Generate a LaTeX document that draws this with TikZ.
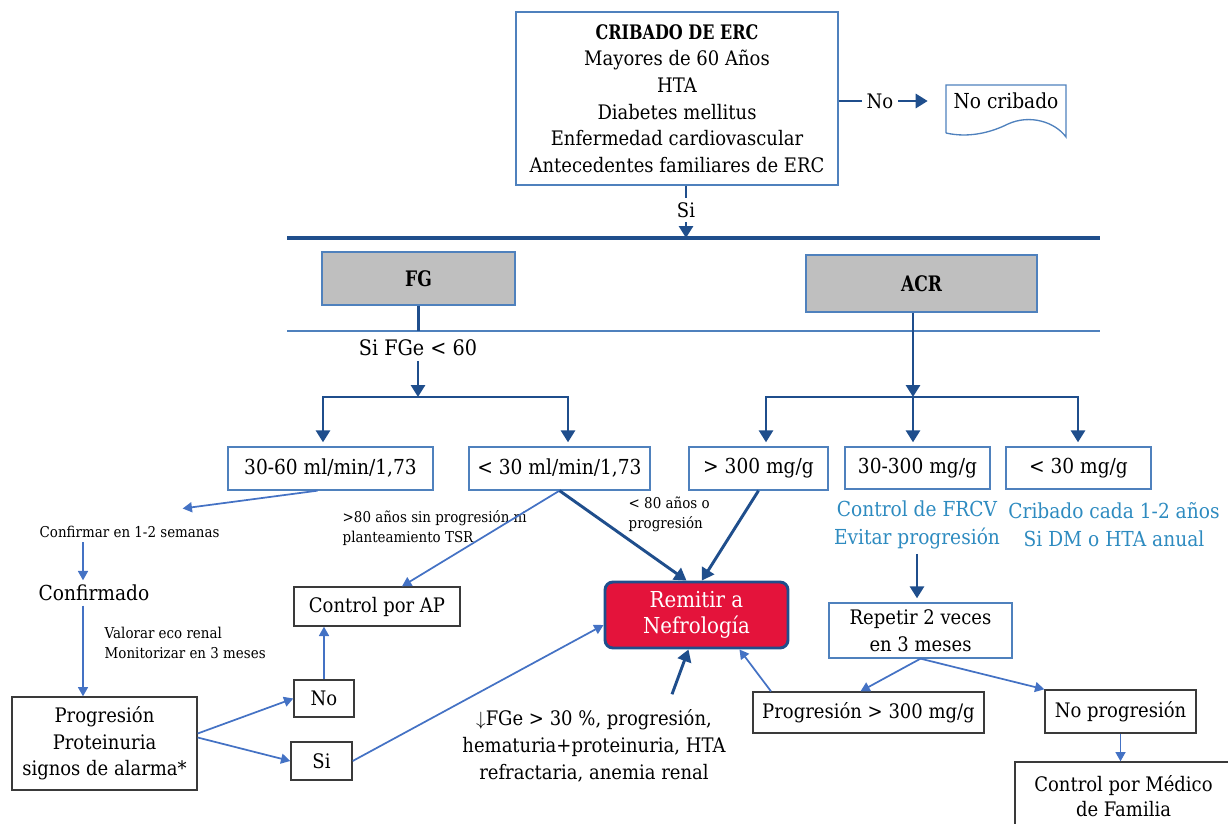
\documentclass[tikz,border=0pt]{standalone}
\usepackage{fontspec}
\setmainfont{DejaVu Serif}[FakeStretch=0.9,BoldFeatures={FakeStretch=0.8}]
\usetikzlibrary{arrows.meta,positioning}
\definecolor{darkblue}{HTML}{1F4E8C}
\definecolor{lineblue}{HTML}{4472C4}
\definecolor{boxblue}{HTML}{4F81BD}
\definecolor{boxgray}{HTML}{3A3A3A}
\definecolor{textblue}{HTML}{2E8BC0}
\definecolor{remred}{HTML}{E4133B}
\definecolor{fggray}{HTML}{BFBFBF}
\begin{document}
\begin{tikzpicture}[x=0.75pt,y=-0.75pt,font=\fontsize{15}{20}\selectfont,
  boxsize/.style 2 args={minimum width=#1*0.75pt,minimum height=#2*0.75pt},
  blue box/.style={draw=boxblue,line width=1pt,inner sep=0pt,align=center},
  black box/.style={draw=boxgray,line width=1pt,inner sep=0pt,align=center},
  gray box/.style={blue box,fill=fggray,font=\fontsize{16}{18}\selectfont\bfseries},
  row box/.style={blue box,font=\fontsize{15.5}{18}\selectfont},
  small text/.style={font=\fontsize{11.2}{15}\selectfont,align=left,anchor=west},
  blue text/.style={text=textblue,align=center,font=\fontsize{15.5}{21}\selectfont},
  dark line/.style={draw=darkblue,line width=2.2pt},
  dark arrow/.style={dark line,-{Triangle[length=9pt,width=10.5pt]}},
  light arrow/.style={draw=lineblue,line width=1.3pt,-{Triangle[length=7pt,width=7.5pt]}}]

  \clip (0,0) rectangle (1228,824);

  % cribado
  \node[blue box,boxsize={322}{173}] (cribado) at (677,98.5)
    {\textbf{CRIBADO DE ERC}\\Mayores de 60 Años\\HTA\\Diabetes mellitus\\Enfermedad cardiovascular\\Antecedentes familiares de ERC};
  \node (nolab) at (880,101) {No};
  \node[minimum width=90pt,font=\fontsize{15.5}{18}\selectfont] (nocrib) at (1006,101) {No cribado};
  \draw[boxblue,line width=1pt] (946,133) -- (946,85) -- (1066,85) -- (1066,137)
    .. controls (1055,122) and (1030,114) .. (1008,124)
    .. controls (990,133) and (968,138) .. (946,133);
  \draw[dark line,line width=1.8pt] (cribado.east |- nolab) -- (nolab.west);
  \draw[dark arrow,shorten >=13.5pt] (nolab.east) -- (nocrib.west);

  \node (silab) at (686,210) {Si};
  \coordinate (barL) at (287,238);
  \coordinate (barR) at (1100,238);
  \draw[dark line,line width=1.8pt] (silab |- cribado.south) -- (silab.north);
  \draw[dark arrow] (silab.south) -- (silab |- barL);
  \draw[dark line,line width=2.4pt] (barL) -- (barR);

  % FG / ACR
  \node[gray box,boxsize={193}{53}] (fg) at (418.5,278.5) {FG};
  \node[gray box,boxsize={231}{57}] (acr) at (921.5,283.5) {ACR};
  \coordinate (thinL) at (287,331);
  \coordinate (thinR) at (1100,331);
  \draw[boxblue,line width=1.1pt] (thinL) -- (thinR);
  \draw[dark line,line width=1.8pt] (fg.south) -- (fg.south |- thinL);
  \node[font=\fontsize{16}{18}\selectfont] (sifge) at (418,348) {Si FGe < 60};

  \coordinate (fgl) at (323,397);
  \coordinate (fgr) at (568,397);
  \coordinate (acrl) at (766,397);
  \coordinate (acrm) at (913,397);
  \coordinate (acrr) at (1078,397);
  \draw[dark arrow] (sifge.south) -- (sifge |- fgl);
  \draw[dark arrow] (acrm |- acr.south) -- (acrm);
  \draw[dark line,line cap=rect] (fgl) -- (fgr);
  \draw[dark line,line cap=rect] (acrl) -- (acrr);

  \node[row box,boxsize={205}{43}] (r3060) at (330.5,468.5) {30-60 ml/min/1,73};
  \node[row box,boxsize={181}{43}] (r30) at (559.5,468.5) {< 30 ml/min/1,73};
  \node[row box,boxsize={139}{43}] (a300) at (758.5,468.5) {> 300 mg/g};
  \node[row box,boxsize={145}{42}] (a30300) at (917.5,468) {30-300 mg/g};
  \node[row box,boxsize={145}{42}] (a30) at (1078.5,468) {< 30 mg/g};
  \path[every edge/.style={dark arrow,shorten >=3pt}]
  (fgl) edge (fgl |- r3060.north)
  (fgr) edge (fgr |- r30.north)
  (acrl) edge (acrl |- a300.north)
  (acrm) edge (acrm |- a30300.north)
  (acrr) edge (acrr |- a30.north);

  % ACR branch
  \node[blue text] (frcv) at (917,525) {Control de FRCV\\Evitar progresión};
  \node[blue text] (cribtxt) at (1114,525) {Cribado cada 1-2 años\\Si DM o HTA anual};
  \node[blue box,boxsize={183}{55}] (repetir) at (920.5,630.5) {Repetir 2 veces\\en 3 meses};
  \draw[dark arrow,shorten >=3pt] (frcv.south) -- (frcv.south |- repetir.north);
  \node[black box,boxsize={231}{41}] (prog300) at (868.5,712.5) {Progresión > 300 mg/g};
  \node[black box,boxsize={151}{43}] (noprog) at (1120.5,711.5) {No progresión};
  \node[black box,boxsize={217}{68},font=\fontsize{15}{19}\selectfont] (medfam) at (1123.5,796) {Control por Médico\\de Familia};
  \path[every edge/.style={light arrow}]
  (repetir.south) edge ([xshift=-6pt]prog300.north)
  (repetir.south) edge (noprog.north west)
  (noprog.south) edge (noprog.south |- medfam.north);

  \node[draw=darkblue,line width=2.2pt,fill=remred,rounded corners=6pt,text=white,align=center,
    inner sep=0pt,boxsize={183}{66},font=\fontsize{16.5}{20}\selectfont] (remitir) at (696.5,615) {Remitir a\\Nefrología};

  % FG branch
  \node[black box,boxsize={166}{39}] (ctrlap) at (377,606.5) {Control por AP};
  \node[small text] (confirm) at (35,532) {Confirmar en 1-2 semanas};
  \node[font=\fontsize{15.5}{18}\selectfont] (confirmado) at (94,593) {Confirmado};
  \node[black box,boxsize={185}{93}] (progbox) at (104.5,743.5) {Progresión\\Proteinuria\\signos de alarma*};
  \node[small text] (valorar) at (100,643) {Valorar eco renal\\Monitorizar en 3 meses};
  \node[black box,boxsize={60}{37}] (nobox) at (324,698.5) {No};
  \node[black box,boxsize={61}{38}] (sibox) at (321.5,761) {Si};
  \node[small text] (mayor80) at (338,528) {>80 años sin progresión ni\\planteamiento TSR};
  \node[small text] (menor80) at (624,514) {< 80 años o\\progresión};
  \node[align=center] (fgedown) at (594,746) {$\downarrow$FGe > 30 \%, progresión,\\hematuria+proteinuria, HTA\\refractaria, anemia renal};
  \coordinate (leftcol) at (83,0);

  \path[every edge/.style={light arrow}]
  ([xshift=-9.75pt]r3060.south) edge ([shift={(53,-13)}]confirm.north)
  (leftcol |- confirm.south) edge (leftcol |- confirmado.north)
  (leftcol |- confirmado.south) edge (leftcol |- progbox.north)
  ([yshift=7.5pt]progbox.east) edge (nobox.west)
  ([yshift=4.5pt]progbox.east) edge (sibox.west)
  (nobox.north) edge (nobox.north |- ctrlap.south)
  (sibox.east) edge ([yshift=-7.5pt]remitir.west)
  (r30.south) edge ([xshift=18.75pt]ctrlap.north)
  ([xshift=14pt]prog300.north west) edge ([xshift=-37.5pt]remitir.south east);

  \path[every edge/.style={dark arrow}]
  (r30.south) edge ([xshift=-7.5pt]remitir.north)
  (a300.south) edge ([xshift=4pt]remitir.north)
  ([shift={(78,-11)}]fgedown.north) edge ([xshift=-6pt]remitir.south);
\end{tikzpicture}
\end{document}
